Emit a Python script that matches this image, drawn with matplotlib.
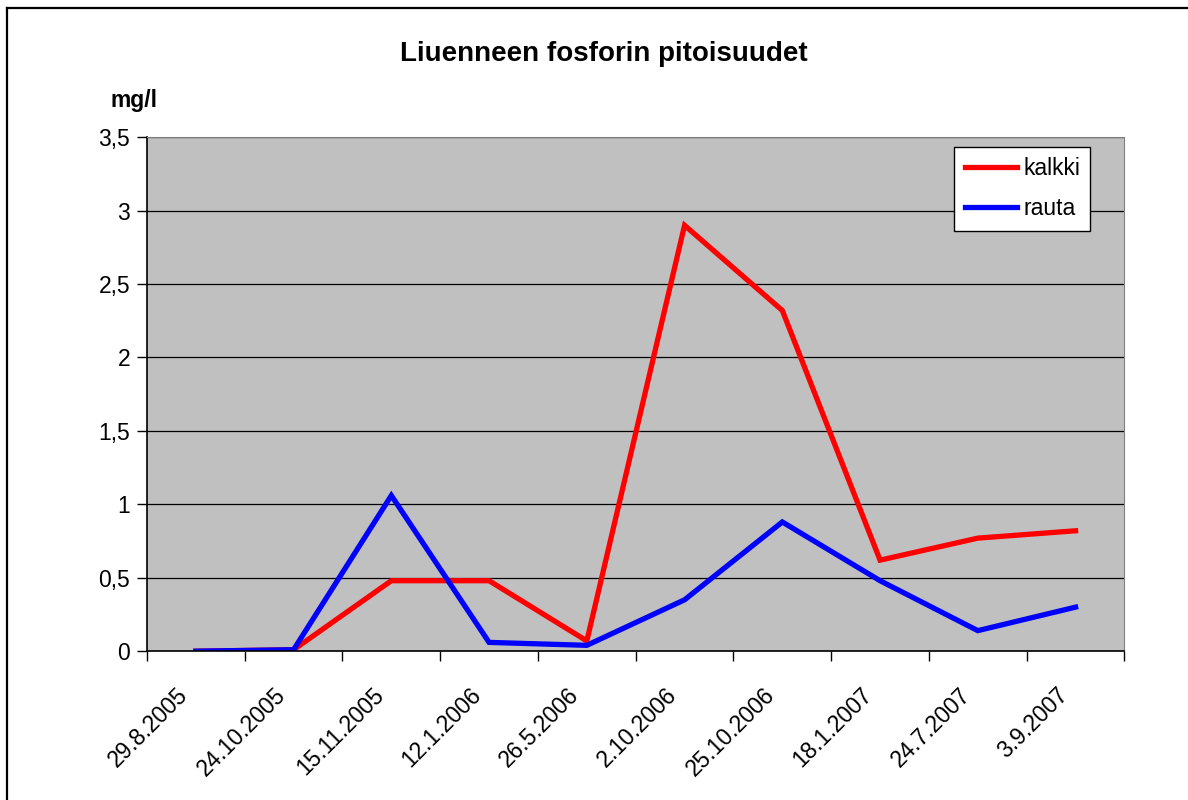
import numpy as np
import matplotlib.pyplot as plt
from matplotlib.lines import Line2D
from matplotlib.transforms import ScaledTranslation

plt.rcParams['font.family'] = ['Liberation Sans', 'DejaVu Sans']

dates = ['29.8.2005', '24.10.2005', '15.11.2005', '12.1.2006', '26.5.2006',
         '2.10.2006', '25.10.2006', '18.1.2007', '24.7.2007', '3.9.2007']
kalkki = [0.0, 0.01, 0.48, 0.48, 0.07, 2.90, 2.32, 0.62, 0.77, 0.82]
rauta = [0.0, 0.01, 1.06, 0.06, 0.04, 0.35, 0.88, 0.48, 0.14, 0.30]

fig = plt.figure(figsize=(11.88, 8), dpi=100)
# outer frame: only top and left edges are visible in the original
fig.lines.append(Line2D([0.0055, 1.0], [0.990, 0.990], transform=fig.transFigure,
                        color='black', lw=1.6))
fig.lines.append(Line2D([0.0055, 0.0055], [0.0, 0.990], transform=fig.transFigure,
                        color='black', lw=1.6))

ax = fig.add_axes([0.1237, 0.186, 0.8228, 0.6425])
ax.set_facecolor('#C0C0C0')

x = np.arange(len(dates))
ax.plot(x, kalkki, color='#FF0000', lw=3.8, label='kalkki', solid_joinstyle='miter')
ax.plot(x, rauta, color='#0000FF', lw=3.8, label='rauta', solid_joinstyle='miter')

ax.set_xlim(-0.5, len(dates) - 0.5)
ax.set_ylim(0, 3.5)
ax.set_yticks(np.arange(0, 3.51, 0.5))
ax.set_yticklabels(['0', '0,5', '1', '1,5', '2', '2,5', '3', '3,5'], fontsize=16.5)
ax.yaxis.grid(True, color='black', lw=0.9)
ax.set_axisbelow(True)

ax.set_xticks(np.arange(-0.5, len(dates), 1.0))
ax.set_xticklabels([])
ax.set_xticks(x, minor=True)
ax.set_xticklabels(dates, minor=True, rotation=45, ha='right', va='center',
                   rotation_mode='anchor', fontsize=16.5)
ax.tick_params(axis='x', which='minor', length=0, pad=29)
ax.tick_params(axis='both', which='major', direction='out', length=7, width=1,
               color='black', pad=5)
shift = ScaledTranslation(-8 / 72, 0, fig.dpi_scale_trans)
for lbl in ax.get_xticklabels(minor=True):
    lbl.set_transform(lbl.get_transform() + shift)

for s in ['top', 'right']:
    ax.spines[s].set_color('#808080')
for s in ['left', 'bottom']:
    ax.spines[s].set_color('black')
    ax.spines[s].set_linewidth(1.2)

leg = ax.legend(loc='upper right', bbox_to_anchor=(0.965, 0.981), borderaxespad=0,
                fontsize=16.5, frameon=True, fancybox=False, framealpha=1,
                edgecolor='black', handlelength=2.3, handletextpad=0.25,
                borderpad=0.45, labelspacing=0.75)
leg.get_frame().set_linewidth(1.0)

fig.text(0.508, 0.932, 'Liuenneen fosforin pitoisuudet', ha='center', va='center',
         fontsize=20, fontweight='bold')
fig.text(0.113, 0.875, 'mg/l', ha='center', va='center', fontsize=16.5, fontweight='bold')

fig.savefig('out.png', dpi=100)
